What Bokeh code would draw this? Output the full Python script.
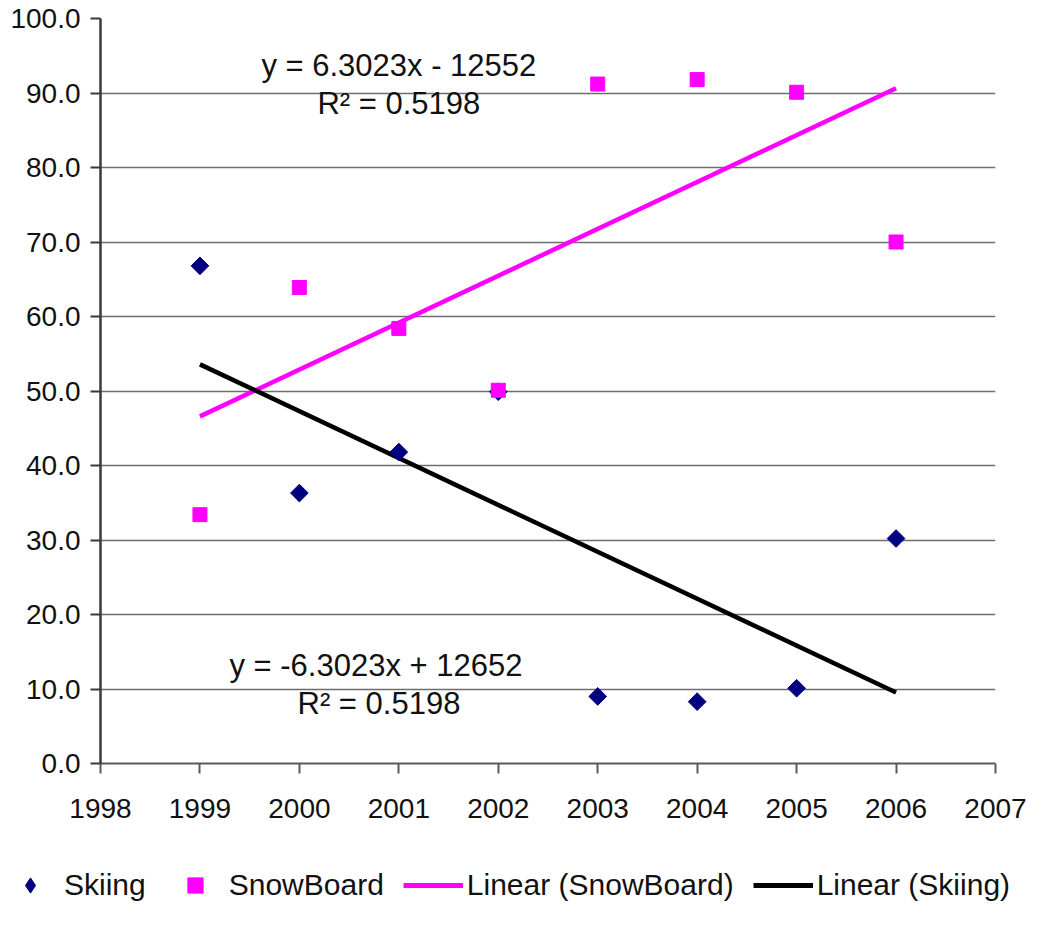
import numpy as np
from bokeh.plotting import figure
from bokeh.layouts import column, row
from bokeh.models import (Range1d, Legend, LegendItem, Label, FixedTicker,
                          ColumnDataSource, NumeralTickFormatter, BasicTickFormatter)
from bokeh.embed import file_html
from bokeh.resources import INLINE

# ---------------- data ----------------
years = [1999, 2000, 2001, 2002, 2003, 2004, 2005, 2006]
skiing = [66.8, 36.3, 41.8, 49.9, 9.0, 8.3, 10.1, 30.2]
snowboard = [33.4, 63.9, 58.4, 50.1, 91.2, 91.8, 90.1, 70.0]
y_ticks = [0, 10, 20, 30, 40, 50, 60, 70, 80, 90, 100]
x_ticks = [1998, 1999, 2000, 2001, 2002, 2003, 2004, 2005, 2006, 2007]
series_names = ["Skiing", "SnowBoard", "Linear (SnowBoard)", "Linear (Skiing)"]
eq_snow = ["y = 6.3023x - 12552", "R\u00b2 = 0.5198"]
eq_ski = ["y = -6.3023x + 12652", "R\u00b2 = 0.5198"]

FONT = "Liberation Sans"
NAVY = "#000080"
MAGENTA = "#FF00FF"
SKI_STYLE = dict(marker="square", angle=np.pi / 4, size=12.5, fill_color=NAVY, line_color=NAVY)
SNOW_STYLE = dict(marker="square", size=14, fill_color=MAGENTA, line_color=MAGENTA)
TSNOW_STYLE = dict(line_color=MAGENTA, line_width=4.5)
TSKI_STYLE = dict(line_color="black", line_width=4.5)

# linear trends computed from the data
fit_snow = np.polyfit(years, snowboard, 1)
fit_ski = np.polyfit(years, skiing, 1)
trend_x = [years[0], years[-1]]
trend_snow = list(np.polyval(fit_snow, trend_x))
trend_ski = list(np.polyval(fit_ski, trend_x))
src = ColumnDataSource(dict(year=years, ski=skiing, snow=snowboard))

p = figure(width=1045, height=830, output_backend="svg", toolbar_location=None,
           x_range=Range1d(1998, 2007), y_range=Range1d(0, 100),
           min_border_left=100, min_border_right=50, min_border_top=18,
           min_border_bottom=67)
p.outline_line_color = None
p.background_fill_color = "white"
p.border_fill_color = "white"

# grid
p.xgrid.visible = False
p.ygrid.ticker = FixedTicker(ticks=y_ticks)
p.ygrid.grid_line_color = "#6e6e6e"
p.ygrid.grid_line_width = 1.7

# axes
p.yaxis.ticker = FixedTicker(ticks=y_ticks)
p.yaxis.formatter = NumeralTickFormatter(format="0.0")
p.xaxis.ticker = FixedTicker(ticks=x_ticks)
p.xaxis.formatter = BasicTickFormatter(use_scientific=False)
for ax in (p.xaxis[0], p.yaxis[0]):
    ax.major_label_text_font = FONT
    ax.major_label_text_font_size = "28px"
    ax.major_label_text_color = "#111111"
    ax.minor_tick_line_color = None
    ax.major_tick_in = 0
    ax.major_tick_out = 10
    ax.major_tick_line_width = 2
p.yaxis.axis_line_color = "#3a3a3a"
p.yaxis.axis_line_width = 2.5
p.yaxis.major_tick_line_color = "#3a3a3a"
p.yaxis.major_label_standoff = 10
p.xaxis.axis_line_color = "#5a5a5a"
p.xaxis.axis_line_width = 2
p.xaxis.major_tick_line_color = "#5a5a5a"
p.xaxis.major_label_standoff = 25

# trend lines
p.line(trend_x, trend_snow, **TSNOW_STYLE)
p.line(trend_x, trend_ski, **TSKI_STYLE)

# points
p.scatter("year", "ski", source=src, **SKI_STYLE)
p.scatter("year", "snow", source=src, **SNOW_STYLE)

# equation labels
for txt, x, y in [(eq_snow[0], 2001.0, 93.7), (eq_snow[1], 2001.0, 88.6),
                  (eq_ski[0], 2000.77, 13.15), (eq_ski[1], 2000.8, 8.05)]:
    p.add_layout(Label(x=x, y=y, text=txt, text_font=FONT, text_font_size="31px",
                       text_align="center", text_baseline="middle",
                       text_color="#111111"))

# ---------------- legend strip below the chart ----------------
# same series re-used; they fall outside this strip's ranges, so only the
# legend entries are visible here
leg = figure(width=1045, height=110, output_backend="svg", toolbar_location=None,
             x_axis_type=None, y_axis_type=None,
             x_range=Range1d(0, 1), y_range=Range1d(0, 1),
             min_border_left=0, min_border_right=0, min_border_top=0,
             min_border_bottom=0)
leg.outline_line_color = None
leg.grid.visible = False
l_ski = leg.scatter("year", "ski", source=src, marker="diamond",
                    fill_color=NAVY, line_color=NAVY)
l_snow = leg.scatter("year", "snow", source=src, **SNOW_STYLE)
l_tsnow = leg.line(trend_x, trend_snow, line_color=MAGENTA, line_width=5)
l_tski = leg.line(trend_x, trend_ski, line_color="black", line_width=5)

items = [LegendItem(label=series_names[0], renderers=[l_ski]),
         LegendItem(label=series_names[1], renderers=[l_snow]),
         LegendItem(label=series_names[2], renderers=[l_tsnow]),
         LegendItem(label=series_names[3], renderers=[l_tski])]
lg = Legend(items=items, location=(0, 36), orientation="horizontal",
            glyph_width=60, glyph_height=38, label_height=38,
            label_standoff=4, spacing=19, padding=0, margin=0,
            border_line_color=None, background_fill_alpha=0,
            label_text_font=FONT, label_text_font_size="30px",
            label_text_color="#111111")
leg.add_layout(lg, "center")

layout = column(p, row(leg), spacing=0)
open("out.html", "w").write(file_html(layout, INLINE))
